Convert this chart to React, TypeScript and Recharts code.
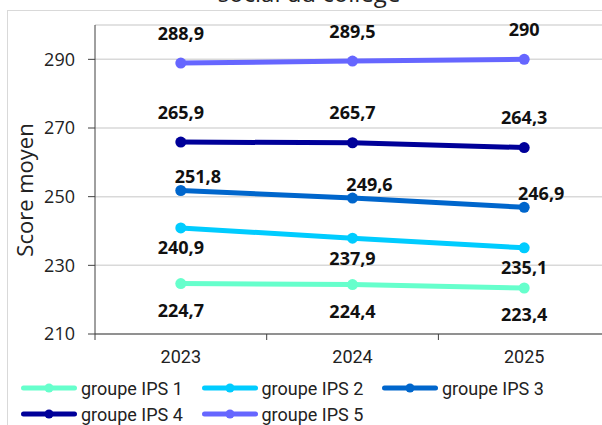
import { LineChart, Line, XAxis, YAxis, CartesianGrid, LabelList } from 'recharts';

// values
const years = ['2023', '2024', '2025'];
const ips1 = [224.7, 224.4, 223.4];
const ips2 = [240.9, 237.9, 235.1];
const ips3 = [251.8, 249.6, 246.9];
const ips4 = [265.9, 265.7, 264.3];
const ips5 = [288.9, 289.5, 290];
const yTicks = [210, 230, 250, 270, 290];

const series = [
  { key: 'ips1', name: 'groupe IPS 1', color: '#66FFCC', values: ips1, dx: 0, dy: 33.5 },
  { key: 'ips2', name: 'groupe IPS 2', color: '#00CCFF', values: ips2, dx: 0, dy: 26.5 },
  { key: 'ips3', name: 'groupe IPS 3', color: '#0066CC', values: ips3, dx: 17, dy: -7.5 },
  { key: 'ips4', name: 'groupe IPS 4', color: '#000099', values: ips4, dx: 0, dy: -23.5 },
  { key: 'ips5', name: 'groupe IPS 5', color: '#6666FF', values: ips5, dx: 0, dy: -23.5 },
];

const data = years.map((year, i) => {
  const row: any = { year };
  series.forEach((s) => (row[s.key] = s.values[i]));
  return row;
});

const fmt = (v: number) => String(v).replace('.', ',');
const HALF_BAND = 85.8;

function XTick(props: any) {
  const { x, y, payload, index } = props;
  const axisY = y - 16;
  return (
    <g>
      <line x1={x - HALF_BAND} x2={x - HALF_BAND} y1={axisY} y2={axisY + 6} stroke="#404040" />
      {index === years.length - 1 && (
        <line x1={x + HALF_BAND} x2={x + HALF_BAND} y1={axisY} y2={axisY + 6} stroke="#404040" />
      )}
      <text x={x} y={y} dy="0.71em" textAnchor="middle" fontFamily="Roboto" fontSize={18} fill="#222">
        {payload.value}
      </text>
    </g>
  );
}

function Legend() {
  return (
    <div
      style={{
        position: 'absolute',
        left: 21,
        top: 375,
        width: 560,
        display: 'flex',
        flexWrap: 'wrap',
        fontFamily: 'Roboto',
        fontSize: 18,
        color: '#222',
      }}
    >
      {series.map((s) => (
        <div key={s.key} style={{ width: 180.5, height: 26, display: 'flex', alignItems: 'center' }}>
          <svg width={56} height={12} style={{ marginRight: 4 }}>
            <line x1={2.5} x2={53.5} y1={6} y2={6} stroke={s.color} strokeWidth={5} strokeLinecap="round" />
            <circle cx={28} cy={6} r={4.5} fill={s.color} />
          </svg>
          <span style={{ whiteSpace: 'nowrap' }}>{s.name}</span>
        </div>
      ))}
    </div>
  );
}

export default function App() {
  return (
    <div
      style={{
        position: 'absolute',
        left: 0,
        top: 0,
        width: 602,
        height: 425,
        overflow: 'hidden',
        background: '#fff',
      }}
    >
      <div
        style={{
          position: 'absolute',
          left: 7,
          top: 10,
          width: 700,
          height: 500,
          border: '1.5px solid #d9d9d9',
        }}
      />
      <div
        style={{
          position: 'absolute',
          top: -19,
          left: 0,
          width: 618,
          textAlign: 'center',
          fontFamily: 'Open Sans',
          fontSize: 24,
          lineHeight: '24px',
          color: '#222',
        }}
      >
        social du collège
      </div>
      <div style={{ position: 'absolute', left: 0, top: 0 }}>
        <LineChart width={640} height={425} data={data} margin={{ top: 25, right: 30, left: 0, bottom: 61 }}>
          <CartesianGrid vertical={false} stroke="#d9d9d9" strokeWidth={1.5} />
          <XAxis
            dataKey="year"
            height={30}
            padding={{ left: HALF_BAND, right: HALF_BAND }}
            axisLine={{ stroke: '#404040' }}
            tickLine={false}
            tickSize={6}
            tickMargin={10}
            tick={<XTick />}
            interval={0}
          />
          <YAxis
            width={95}
            domain={[210, 300]}
            ticks={yTicks}
            axisLine={{ stroke: '#404040' }}
            tickLine={{ stroke: '#404040' }}
            tickSize={7}
            tickMargin={13}
            tick={{ fontFamily: 'Open Sans', fontSize: 18, fill: '#222' }}
            label={{
              value: 'Score moyen',
              angle: -90,
              position: 'insideLeft',
              content: () => (
                <text
                  x={33}
                  y={190}
                  transform="rotate(-90 33 190)"
                  textAnchor="middle"
                  fontFamily="Open Sans"
                  fontSize={22}
                  fill="#222"
                >
                  Score moyen
                </text>
              ),
            }}
          />
          {series.map((s) => (
            <Line
              key={s.key}
              dataKey={s.key}
              name={s.name}
              stroke={s.color}
              strokeWidth={5}
              dot={{ r: 5.5, fill: s.color, stroke: s.color, strokeWidth: 0 }}
              activeDot={false}
              isAnimationActive={false}
            >
              <LabelList
                dataKey={s.key}
                content={(p: any) => (
                  <text
                    x={p.x + s.dx}
                    y={p.y + s.dy}
                    textAnchor="middle"
                    fontFamily="Open Sans"
                    fontWeight="bold"
                    fontSize={18}
                    fill="#111"
                  >
                    {fmt(p.value)}
                  </text>
                )}
              />
            </Line>
          ))}
        </LineChart>
      </div>
      <Legend />
    </div>
  );
}
